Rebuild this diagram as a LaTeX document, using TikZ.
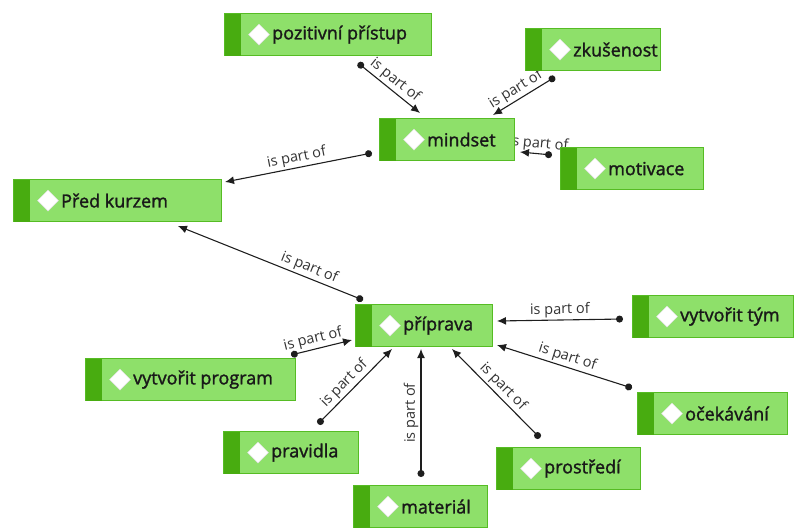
\documentclass[tikz,border=0pt]{standalone}
\usepackage{fontspec}
\setmainfont{Open Sans}
\newfontfamily\conceptfont[FakeBold=1.6]{Open Sans}
\usetikzlibrary{arrows.meta, shapes.geometric, backgrounds}
\definecolor{conceptfill}{RGB}{142,224,106}
\definecolor{conceptstrip}{RGB}{72,172,16}
\definecolor{conceptline}{RGB}{86,188,36}
\definecolor{linkcol}{RGB}{30,30,30}
\newcommand{\concept}[4]{  % #1 = top left corner, #2 = width, #3 = name, #4 = text
	\node[concept, minimum width=#2, at={#1}](#3){};
	\fill[conceptstrip] ([shift={(0.6,0.6)}]#3.north west) rectangle ([shift={(17,-0.6)}]#3.south west);
	\node[diamond, fill=white, draw=black!12, line width=0.4pt, inner sep=0pt, minimum size=21pt] at ([shift={(35,0)}]#3.west) {};
	\node[anchor=west, inner sep=0pt, font=\conceptfont\fontsize{18}{21}\selectfont, text=black!90] at ([shift={(48,0)}]#3.west) {#4};
}

\begin{document}
\begin{tikzpicture}[x=1pt, y=-1pt,
					concept/.style={draw=conceptline, line width=1.2pt, fill=conceptfill, minimum height=42pt, anchor=north west, inner sep=0pt},
					rel/.style={{Circle[length=7pt]}-{Latex[length=9pt, width=8pt]}, line width=1.1pt, draw=linkcol},
					lbl/.style={sloped, above, inner sep=2pt, font=\fontsize{14.5}{17}\selectfont, text=black!80}
					]
					\useasboundingbox (0,0) rectangle (794,528);

					\concept{(224,13)}{207}{poz}{pozitivní přístup}
					\concept{(525,28)}{135}{zkus}{zkušenost}
					\concept{(379,118)}{135}{mind}{mindset}
					\concept{(560,147)}{143}{motiv}{motivace}
					\concept{(13,179)}{208}{kurz}{Před kurzem}
					\concept{(355,304)}{137}{prip}{příprava}
					\concept{(632,295)}{161}{tym}{vytvořit tým}
					\concept{(85,358)}{210}{prog}{vytvořit program}
					\concept{(223,431)}{135}{prav}{pravidla}
					\concept{(637,392)}{150}{ocek}{očekávání}
					\concept{(496,447)}{144}{prost}{prostředí}
					\concept{(353,485)}{134}{mat}{materiál}

					% Connections (behind the boxes)
					\begin{pgfonlayer}{background}
					\draw[rel] ([shift={(134,50)}]poz.north west) -- ([shift={(41,-5)}]mind.north west) node[lbl, midway] {is part of};
					\draw[rel] ([shift={(30,49)}]zkus.north west) -- ([shift={(114,-3)}]mind.north west) node[lbl, pos=0.55] {is part of};
					\draw[rel] ([shift={(-8,8)}]motiv.north west) -- ([shift={(141,34)}]mind.north west) node[lbl, pos=0.45] {is part of};
					\draw[rel] ([shift={(-7,35)}]mind.north west) -- ([shift={(212,3)}]kurz.north west) node[lbl, midway] {is part of};
					\draw[rel] ([shift={(8,-4)}]prip.north west) -- ([shift={(165,47)}]kurz.north west) node[lbl, pos=0.31] {is part of};
					\draw[rel] ([shift={(206,-3)}]prog.north west) -- ([shift={(-3,36)}]prip.north west) node[lbl, pos=0.4] {is part of};
					\draw[rel] ([shift={(-9,24)}]tym.north west) -- ([shift={(142,17)}]prip.north west) node[lbl, midway] {is part of};
					\draw[rel] ([shift={(-5,-4)}]ocek.north west) -- ([shift={(142,41)}]prip.north west) node[lbl, midway] {is part of};
					\draw[rel] ([shift={(44,-9)}]prost.north west) -- ([shift={(97,45)}]prip.north west) node[lbl, midway] {is part of};
					\draw[rel] ([shift={(68,-8)}]mat.north west) -- ([shift={(66,45)}]prip.north west) node[lbl, midway] {is part of};
					\draw[rel] ([shift={(95,-7)}]prav.north west) -- ([shift={(37,45)}]prip.north west) node[lbl, pos=0.45] {is part of};
					\end{pgfonlayer}

				\end{tikzpicture}
\end{document}
